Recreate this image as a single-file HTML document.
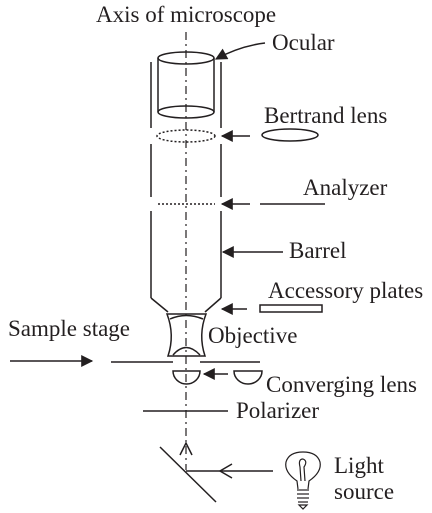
<!DOCTYPE html>
<html><head><meta charset="utf-8"><style>
html,body{margin:0;padding:0;background:#fff;}
svg{display:block;}
text{font-family:"Liberation Serif",serif;font-size:23px;fill:#231f20;}
</style></head><body>
<svg width="432" height="513" viewBox="0 0 432 513" stroke="#231f20" fill="none" stroke-width="1.5">
<defs>
<marker id="ah" viewBox="0 0 10 10" refX="9" refY="5" markerWidth="14" markerHeight="12" orient="auto-start-reverse" markerUnits="userSpaceOnUse"><path d="M0,0 L10,5 L0,10 z" fill="#231f20" stroke="none"/></marker>
</defs>
<text x="96" y="22" stroke="none">Axis of microscope</text>
<line x1="186" y1="32" x2="186" y2="470" stroke-dasharray="8,4,2,4" stroke-width="1.2"/>
<g>
<line x1="151" y1="62" x2="151" y2="128"/><line x1="221" y1="62" x2="221" y2="128"/>
<line x1="151" y1="144" x2="151" y2="197"/><line x1="221" y1="144" x2="221" y2="197"/>
<line x1="151" y1="211" x2="151" y2="298"/><line x1="221" y1="211" x2="221" y2="298"/>
<line x1="151" y1="298" x2="168" y2="312"/><line x1="221" y1="298" x2="205" y2="312"/>
</g>
<g>
<ellipse cx="186" cy="58" rx="28" ry="6"/>
<ellipse cx="186" cy="112" rx="28" ry="6"/>
<line x1="158" y1="58" x2="158" y2="112"/><line x1="214" y1="58" x2="214" y2="112"/>
</g>
<path d="M265,43 Q240,46 216,59" marker-end="url(#ah)"/>
<text x="272" y="50" stroke="none">Ocular</text>
<ellipse cx="186" cy="136" rx="29" ry="6" stroke-dasharray="2,2"/>
<line x1="250" y1="136" x2="222" y2="136" marker-end="url(#ah)"/>
<ellipse cx="290" cy="135" rx="28" ry="6"/>
<text x="264" y="123" stroke="none">Bertrand lens</text>
<line x1="158" y1="204" x2="215" y2="204" stroke-dasharray="2,2"/>
<line x1="250" y1="204" x2="222" y2="204" marker-end="url(#ah)"/>
<line x1="260" y1="204" x2="325" y2="204"/>
<text x="303" y="195" stroke="none">Analyzer</text>
<line x1="283" y1="252" x2="223" y2="252" marker-end="url(#ah)"/>
<text x="289" y="258" stroke="none">Barrel</text>
<line x1="247" y1="309" x2="222" y2="309" marker-end="url(#ah)"/>
<rect x="260" y="305" width="62" height="7"/>
<text x="268" y="298" stroke="none">Accessory plates</text>
<g>
<path d="M167,314 L206,314 Q198,335 205,356 L168,356 Q175,335 167,314 Z"/>
<path d="M170,319 Q186,312 203,319"/>
<path d="M173,355 Q186,340 200,355"/>
</g>
<text x="208" y="343" stroke="none">Objective</text>
<text x="8" y="336" stroke="none">Sample stage</text>
<line x1="10" y1="361" x2="92" y2="361" marker-end="url(#ah)"/>
<line x1="111" y1="362" x2="173" y2="362"/>
<line x1="200" y1="362" x2="260" y2="362"/>
<path d="M173,371 L200,371 A13.5,13 0 0 1 173,371 Z"/>
<line x1="228" y1="374" x2="204" y2="374" marker-end="url(#ah)"/>
<path d="M234,371 L262,371 A14,13 0 0 1 234,371 Z"/>
<text x="266" y="392" stroke="none">Converging lens</text>
<line x1="143" y1="411" x2="228" y2="411"/>
<text x="236" y="418" stroke="none">Polarizer</text>
<line x1="160" y1="447" x2="216" y2="502"/>
<line x1="273" y1="471" x2="186" y2="471"/>
<polyline points="232,464 220,471 232,478"/>
<polyline points="180,455 186,443 192,455"/>
<g stroke-width="1.2">
<path d="M298,489 L297,481 Q284,472 286,462 Q289,452 303,452 Q317,452 320,462 Q322,472 309,481 L308,489"/>
<path d="M301,481 L300,467 Q298,459 303,459 Q308,461 304,467 L305,481"/>
<line x1="297" y1="490" x2="309" y2="490"/><line x1="297" y1="494" x2="309" y2="494"/><line x1="297" y1="498" x2="309" y2="498"/><line x1="298" y1="502" x2="308" y2="502"/>
<path d="M299,505 L307,505 L303,509 Z"/>
</g>
<text x="334" y="473" stroke="none">Light</text>
<text x="334" y="499" stroke="none">source</text>
</svg>
</body></html>
